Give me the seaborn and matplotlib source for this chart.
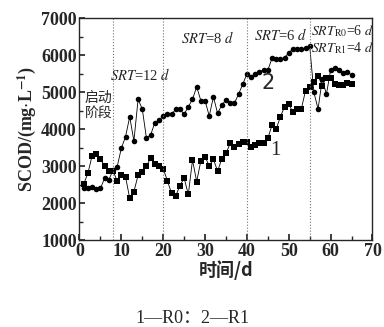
import matplotlib
matplotlib.use('Agg')
import matplotlib.pyplot as plt
import seaborn as sns
import pandas as pd
from matplotlib.ticker import MultipleLocator

sns.set_theme(style='ticks')
plt.rcParams['font.family'] = ['Liberation Serif', 'Noto Sans CJK SC', 'DejaVu Sans']
plt.rcParams['mathtext.fontset'] = 'stix'

days = list(range(1, 66))

# series 1 (R0), square markers
scod_r0 = [2520, 2810, 3280, 3330, 3190, 3020, 2870, 2880, 2610, 2760,
           2720, 2135, 2315, 2760, 2860, 3010, 3220, 3070, 3020, 2940,
           2610, 2270, 2200, 2480, 2680, 2240, 3170, 2590, 3150, 3260,
           3010, 3190, 2870, 3200, 3350, 3620, 3530, 3600, 3670, 3670,
           3510, 3580, 3640, 3640, 3760, 4110, 4010, 4340, 4610, 4680,
           4460, 4550, 4550, 5045, 5135, 5290, 5450, 5180, 5400, 5380,
           5225, 5200, 5200, 5240, 5215]

# series 2 (R1), circle markers
scod_r1 = [2405, 2420, 2450, 2395, 2405, 2675, 2630, 2900, 2990, 3490,
           3800, 4340, 3685, 4810, 4550, 3760, 3850, 4180, 4250, 4360,
           4410, 4410, 4540, 4540, 4410, 4610, 4810, 5150, 4775, 4775,
           4360, 4880, 4430, 4660, 4790, 4700, 4700, 4950, 5215, 5500,
           5420, 5500, 5560, 5600, 5600, 5920, 5890, 5890, 5940, 6070,
           6170, 6170, 6170, 6190, 6250, 5000, 4550, 5350, 4950, 5600,
           5670, 5600, 5510, 5560, 5470]

phase_days = [8, 20, 40, 55]

df = pd.DataFrame({
    'day': days * 2,
    'scod': scod_r0 + scod_r1,
    'series': ['1'] * len(days) + ['2'] * len(days),
})

fig = plt.figure(figsize=(3.84, 3.27), dpi=100)
ax = fig.add_axes([0.207, 0.265, 0.763, 0.679])

sns.lineplot(data=df, x='day', y='scod', style='series',
             markers={'1': 's', '2': 'o'}, dashes=False, color='black',
             linewidth=0.6, markersize=4, markeredgewidth=0,
             legend=False, ax=ax)

for d in phase_days:
    ax.axvline(d, color='0.45', linestyle=':', linewidth=0.8)

ax.set_xlim(0, 70)
ax.set_ylim(1000, 7000)
ax.xaxis.set_major_locator(MultipleLocator(10))
ax.xaxis.set_minor_locator(MultipleLocator(5))
ax.yaxis.set_major_locator(MultipleLocator(1000))
ax.yaxis.set_minor_locator(MultipleLocator(500))
ax.tick_params(which='both', direction='in', labelsize=13, pad=2)
ax.tick_params(which='major', length=4)
ax.tick_params(which='minor', length=3)
for lab in ax.get_xticklabels() + ax.get_yticklabels():
    lab.set_fontweight('bold')
for s in ax.spines.values():
    s.set_linewidth(1.0)

ax.set_xlabel('时间/d', fontsize=13, fontweight='bold',
              family=['Noto Sans CJK SC'], labelpad=0)
ax.set_ylabel(r'SCOD/(mg$\cdot$L$^{\mathbf{-1}}$)', fontsize=13,
              fontweight='bold', labelpad=2)

ax.text(7.2, 5470, r'$SRT$=12 $d$', fontsize=10.5, va='center')
ax.text(24.2, 6460, r'$SRT$=8 $d$', fontsize=10.5, va='center')
ax.text(41.8, 6550, r'$SRT$=6 $d$', fontsize=10.5, va='center')
ax.text(55.4, 6650, r'$SRT_{\rm R0}$=6 $d$', fontsize=10, va='center')
ax.text(55.4, 6200, r'$SRT_{\rm R1}$=4 $d$', fontsize=10, va='center')
ax.text(4.6, 4660, '启动\n阶段', fontsize=10, ha='center', va='center',
        family=['Noto Sans CJK SC'], linespacing=1.1)
ax.text(45.1, 5240, '2', fontsize=15, ha='center', va='center',
        family=['DejaVu Sans'])
ax.text(46.7, 3440, '1', fontsize=15, ha='center', va='center')

fig.text(0.5, 0.027, '1—R0：2—R1', fontsize=13, ha='center', va='center')

fig.savefig('out.png', dpi=100)
